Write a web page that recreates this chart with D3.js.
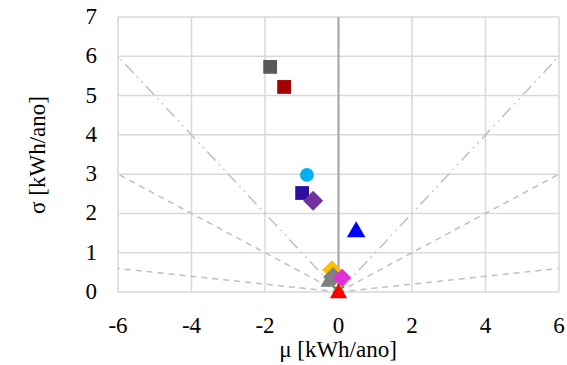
<!DOCTYPE html>
<html><head><meta charset="utf-8">
<script src="https://cdn.jsdelivr.net/npm/d3@7"></script>
<style>body{margin:0;background:#fff} svg text{font-family:"Liberation Serif",Tinos,serif !important;}</style>
</head><body>
<svg id="c" width="567" height="365" style="font-family:'Liberation Serif',Tinos,serif"></svg>
<script>
const xTicks = [-6,-4,-2,0,2,4,6];
const yTicks = [0,1,2,3,4,5,6,7];
const pointNames = ["p1","p2","p3","p4","p5","p6","p7","p8","p9","p10","p11","p12"];
const muValues = [-1.86,-1.48,-0.86,-0.99,-0.69,0.48,-0.18,-0.33,-0.15,0.10,0.0,0.0];
const sigmaValues = [5.73,5.22,2.98,2.52,2.32,1.53,0.56,0.22,0.38,0.36,0.06,-0.03];
const shapes = ["square","square","circle","square","diamond","triangle","diamond","triangle","diamond","diamond","star","triangle"];
const colors = ["#595959","#a50000","#00b0f0","#2e0ea0","#7030a0","#0000ff","#ffc000","#7f7f7f","#808080","#e030d8","#3fa535","#ff0000"];
const sizes = [190,190,150,190,200,150,190,60,200,170,110,130];
const refSlopes = [0.1,0.5,1];
const refDash = ["6,5","6,5","12,5,1.5,5,1.5,5"];

const svg = d3.select("#c");
const m = {l:118,r:559,t:17,b:292};
const x = d3.scaleLinear().domain([-6,6]).range([m.l,m.r]);
const y = d3.scaleLinear().domain([0,7]).range([m.b,m.t]);
const tf = 23;
const TS = `font-family:'Liberation Serif' !important;font-size:${tf}px`;

const g = svg.append("g");
g.selectAll(".vg").data(xTicks).join("line").attr("x1",d=>x(d)).attr("x2",d=>x(d)).attr("y1",m.t).attr("y2",m.b)
  .attr("stroke","#d9d9d9").attr("stroke-width",1.5);
g.selectAll(".hg").data(yTicks).join("line").attr("x1",m.l).attr("x2",m.r).attr("y1",d=>y(d)).attr("y2",d=>y(d))
  .attr("stroke","#d9d9d9").attr("stroke-width",1.5);
g.append("line").attr("x1",x(0)).attr("x2",x(0)).attr("y1",m.t).attr("y2",m.b).attr("stroke","#a6a6a6").attr("stroke-width",2);

svg.append("clipPath").attr("id","pc").append("rect").attr("x",m.l).attr("y",m.t).attr("width",m.r-m.l).attr("height",m.b-m.t);
refSlopes.forEach((s,i)=>{
  [-1,1].forEach(side=>{
    const ye = Math.min(7, 6*s);
    const xe2 = ye/s*side;
    g.append("line").attr("x1",x(0)).attr("y1",y(0)).attr("x2",x(xe2)).attr("y2",y(ye))
      .attr("stroke","#bfbfbf").attr("stroke-width",1.5).attr("stroke-dasharray",refDash[i]).attr("clip-path","url(#pc)");
  });
});

g.selectAll(".xt").data(xTicks).join("text").attr("x",d=>x(d)).attr("y",333).attr("text-anchor","middle")
  .attr("font-family","Liberation Serif").attr("font-size",tf).attr("style",TS).text(d=>d);
g.selectAll(".yt").data(yTicks).join("text").attr("x",97).attr("y",d=>y(d)+7).attr("text-anchor","end")
  .attr("font-family","Liberation Serif").attr("font-size",tf).attr("style",TS).text(d=>d);
svg.append("text").attr("x",338).attr("y",357).attr("text-anchor","middle").attr("font-family","Liberation Serif").attr("font-size",tf).attr("style",TS).text("μ [kWh/ano]");
svg.append("text").attr("transform","translate(45,155) rotate(-90)").attr("text-anchor","middle").attr("font-family","Liberation Serif").attr("font-size",tf).attr("style",TS).text("σ [kWh/ano]");

const sym = {square:d3.symbolSquare,circle:d3.symbolCircle,diamond:d3.symbolSquare,triangle:d3.symbolTriangle,star:d3.symbolAsterisk};
const pts = pointNames.map((n,i)=>({n,mu:muValues[i],s:sigmaValues[i],shape:shapes[i],c:colors[i],size:sizes[i]}));
svg.selectAll(".pt").data(pts).join("path")
  .attr("transform",d=>`translate(${x(d.mu)},${y(d.s)})${d.shape==="diamond"?" rotate(45)":""}`)
  .attr("d",d=>d3.symbol().type(sym[d.shape]).size(d.size)())
  .attr("fill",d=>d.shape==="star"?"none":d.c)
  .attr("stroke",d=>d.shape==="star"?d.c:"none").attr("stroke-width",2.5);
</script>
</body></html>
